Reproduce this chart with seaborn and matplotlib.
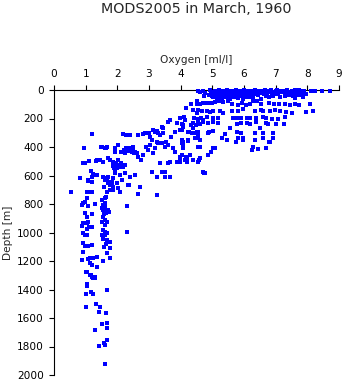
import matplotlib
matplotlib.use("Agg")
import matplotlib.pyplot as plt
import seaborn as sns
import pandas as pd

# (oxygen [ml/l], depth [m]) samples, grouped by depth band
surface_0_25 = [
    (4.55, 8), (4.62, 14), (4.70, 5), (4.78, 18), (4.93, 3), (5.00, 12), (5.05, 22), (5.10, 6),
    (5.15, 16), (5.20, 2), (5.25, 11), (5.30, 20), (5.35, 7), (5.40, 15), (5.45, 1), (5.50, 10),
    (5.55, 19), (5.60, 5), (5.65, 13), (5.70, 23), (5.75, 3), (5.80, 9), (5.85, 17), (5.90, 6),
    (5.95, 14), (6.00, 2), (6.05, 11), (6.10, 20), (6.15, 4), (6.20, 12), (6.25, 8), (6.30, 18),
    (6.35, 1), (6.40, 10), (6.45, 15), (6.50, 5), (6.55, 21), (6.60, 9), (6.65, 2), (6.70, 13),
    (6.75, 6), (6.80, 17), (6.85, 3), (6.90, 11), (6.95, 19), (7.00, 7), (7.05, 1), (7.10, 14),
    (7.15, 9), (7.20, 4), (7.25, 16), (7.30, 8), (7.35, 2), (7.40, 12), (7.45, 20), (7.50, 6),
    (7.55, 10), (7.60, 3), (7.65, 15), (7.70, 8), (7.75, 1), (7.80, 12), (7.85, 5), (7.90, 18),
    (7.95, 25), (8.13, 4), (8.24, 6), (8.45, 5), (8.72, 6),
]
surface_fill = [
    (4.97, 18), (5.07, 8), (5.12, 27), (5.22, 15), (5.28, 4), (5.37, 25), (5.42, 9), (5.52, 30),
    (5.58, 16), (5.67, 6), (5.72, 33), (5.78, 20), (5.88, 10), (5.93, 26), (6.02, 17), (6.08, 5),
    (6.12, 35), (6.18, 22), (6.27, 13), (6.33, 27), (6.42, 4), (6.48, 20), (6.58, 14), (6.63, 28),
    (6.72, 22), (6.78, 10), (6.88, 25), (6.98, 14), (7.08, 22), (7.18, 17), (7.28, 26), (7.38, 20),
    (7.48, 14), (7.58, 22), (7.68, 28), (7.78, 18), (7.88, 10), (5.00, 42), (5.18, 48),
    (5.40, 44), (5.60, 50), (5.82, 46), (6.00, 42), (6.20, 48),
]
surface_25_70 = [
    (4.75, 45), (4.88, 38), (4.95, 30), (5.02, 52), (5.08, 35), (5.14, 62), (5.20, 28), (5.26, 45),
    (5.32, 58), (5.38, 32), (5.44, 50), (5.50, 40), (5.56, 65), (5.62, 30), (5.68, 48), (5.74, 36),
    (5.80, 57), (5.86, 28), (5.92, 44), (5.98, 60), (6.04, 33), (6.10, 50), (6.16, 40), (6.22, 30),
    (6.30, 55), (6.45, 35), (6.55, 62), (6.70, 40), (6.80, 52), (6.92, 45), (7.05, 30), (7.15, 48),
    (7.30, 40), (7.42, 35), (7.55, 45), (7.62, 55), (7.75, 38), (7.85, 50),
]
upper_70_120 = [
    (4.34, 100), (4.50, 100), (4.60, 95), (4.75, 92), (4.85, 88), (5.00, 90), (5.10, 85), (5.35, 82),
    (5.62, 100), (5.80, 108), (5.95, 88), (6.05, 108), (6.40, 80), (6.55, 98), (6.80, 90), (6.95, 100),
    (7.12, 98), (7.30, 100), (7.45, 102), (7.60, 98), (7.75, 102), (8.08, 98), (5.20, 75), (5.50, 78),
    (6.20, 95), (6.30, 75), (4.50, 77), (4.71, 89),
]
upper_120_165 = [
    (4.18, 128), (4.39, 140), (4.55, 140), (4.66, 147), (4.82, 150), (4.92, 155), (5.03, 147),
    (5.24, 147), (5.61, 150), (5.82, 147), (5.97, 133), (6.34, 150), (6.55, 140), (6.60, 150),
    (6.81, 150), (6.97, 140), (7.13, 147), (7.34, 155), (7.50, 164), (7.97, 155), (8.18, 150),
    (5.35, 160), (4.50, 160),
]
upper_175_210 = [
    (3.97, 199), (4.10, 187), (4.13, 210), (4.42, 199), (4.55, 205), (4.63, 199), (4.82, 187),
    (5.03, 199), (5.18, 199), (5.66, 199), (5.78, 194), (5.92, 199), (6.08, 194), (6.18, 199),
    (6.37, 199), (6.60, 187), (6.71, 194), (6.87, 205), (7.08, 205), (7.29, 187),
]
upper_220_270 = [
    (4.03, 241), (4.08, 257), (4.39, 234), (4.48, 246), (4.61, 241), (4.69, 227), (4.87, 234),
    (5.03, 222), (5.18, 234), (5.55, 269), (5.78, 241), (5.92, 234), (6.08, 234), (6.20, 241),
    (6.37, 227), (6.50, 269), (6.69, 234), (6.76, 241), (7.02, 241), (7.26, 241),
]
upper_280_320 = [
    (3.97, 281), (4.27, 292), (4.37, 304), (4.50, 292), (4.55, 316), (4.90, 292), (5.03, 288),
    (5.40, 311), (5.78, 292), (5.92, 304), (6.34, 304), (6.60, 304), (6.92, 304),
]
upper_330_500 = [
    (4.03, 351), (4.03, 374), (4.24, 358), (4.45, 340), (4.55, 336), (5.29, 340), (5.45, 351),
    (5.82, 340), (5.97, 340), (6.34, 351), (6.60, 340), (6.79, 363), (6.92, 340),
    (4.08, 363), (4.06, 410), (4.03, 456), (4.24, 351), (4.29, 456), (4.19, 480), (4.19, 503),
    (3.97, 491), (4.55, 398), (4.61, 398), (4.40, 491), (4.59, 491), (4.87, 456), (4.97, 433),
    (5.03, 410), (5.08, 410), (5.76, 363), (5.97, 351), (6.24, 421), (6.29, 398), (6.45, 416),
    (6.71, 410), (6.81, 363), (4.74, 580),
]
middle_210_400 = [
    (3.13, 281), (3.19, 292), (3.24, 286), (3.29, 304), (3.34, 316), (3.40, 257), (3.45, 269),
    (3.45, 304), (3.61, 222), (3.66, 211), (3.71, 327), (3.82, 292), (3.87, 234), (4.03, 281),
    (4.08, 246), (4.24, 292), (4.34, 246), (4.39, 269), (4.45, 304), (4.55, 292), (4.55, 222),
    (4.60, 351), (4.71, 211), (4.87, 304),
    (2.19, 311), (2.27, 316), (2.40, 316), (2.66, 316), (2.82, 309), (2.87, 304), (3.01, 304),
    (3.03, 327), (3.08, 351), (3.24, 362), (3.29, 374), (3.40, 374), (3.50, 398), (3.55, 362),
    (3.61, 386),
]
middle_380_520 = [
    (1.50, 398), (1.61, 409), (1.66, 398), (1.92, 409), (1.92, 433), (2.03, 386), (2.13, 433),
    (2.24, 444), (2.35, 421), (2.40, 409), (2.45, 433), (2.50, 398), (2.55, 433), (2.61, 444),
    (2.66, 468), (2.76, 491), (2.82, 456), (2.92, 398), (2.97, 421), (3.03, 386), (3.13, 444),
    (3.19, 409), (3.34, 515), (3.61, 515), (3.66, 503), (3.76, 409), (3.82, 433), (3.87, 503),
    (3.97, 468), (3.97, 503), (4.08, 386), (4.13, 491), (4.18, 468), (4.29, 456), (4.39, 491),
    (4.55, 503), (4.60, 479), (4.71, 573), (4.87, 456),
    (2.38, 415), (2.42, 425), (2.48, 418), (2.32, 430), (2.52, 440), (2.20, 420), (2.28, 410),
]
middle_480_780 = [
    (1.45, 491), (1.56, 503), (1.71, 479), (1.77, 491), (1.87, 503), (1.92, 515), (1.98, 526),
    (2.03, 491), (2.08, 538), (2.13, 515), (2.19, 538), (2.24, 526), (2.24, 585), (2.08, 596),
    (1.92, 585), (1.87, 620), (1.71, 608), (1.61, 620), (1.66, 632), (1.71, 643), (1.77, 655),
    (1.82, 667), (1.98, 655), (2.03, 690), (2.08, 713), (1.87, 702), (1.56, 608), (2.55, 596),
    (2.40, 608), (3.08, 573), (3.24, 608), (3.40, 573), (3.50, 573), (3.50, 608), (3.66, 608),
    (4.76, 585), (2.35, 667), (2.71, 678), (2.66, 730), (3.24, 737), (1.66, 713), (1.77, 702),
    (1.61, 760), (1.95, 535), (1.90, 545), (2.00, 550), (1.96, 520), (1.85, 530), (1.94, 560),
    (1.56, 609), (1.61, 632), (1.72, 656), (1.58, 679),
]
left_300_640 = [
    (1.19, 309), (0.95, 409), (0.90, 510), (0.97, 510), (1.10, 498), (1.35, 490), (1.33, 500),
    (1.48, 402), (1.64, 409), (1.17, 570), (1.22, 590), (1.28, 596), (1.35, 596), (1.20, 610),
    (0.82, 615), (1.08, 632),
]
deep_630_1320 = [
    (1.08, 636), (1.19, 643), (1.61, 632), (1.71, 643), (1.77, 667), (1.87, 678), (1.82, 643),
    (2.14, 632), (2.38, 667), (2.71, 678), (0.53, 718), (1.03, 713), (1.12, 713), (1.19, 713),
    (1.64, 753), (1.50, 772), (1.61, 796), (1.56, 807), (1.03, 760), (0.87, 807), (0.93, 796),
    (0.98, 784), (1.08, 811), (1.29, 800), (1.50, 831), (1.56, 842), (1.66, 846), (1.71, 842),
    (1.75, 854), (2.29, 811), (0.98, 866), (1.03, 889), (1.19, 870), (1.56, 889), (1.61, 912),
    (1.50, 924), (1.66, 924), (0.93, 936), (1.03, 936), (1.08, 924), (1.12, 959), (1.19, 964),
    (0.89, 955), (1.05, 978), (1.56, 982), (1.61, 994), (1.66, 1006), (1.50, 1018), (1.61, 1018),
    (1.56, 1029), (0.93, 1006), (0.98, 1018), (1.03, 1018), (2.29, 999), (1.71, 1064),
    (1.66, 1053), (1.77, 1064), (1.77, 1111), (0.93, 1076), (0.98, 1095), (1.08, 1095),
    (1.19, 1088), (0.93, 1134), (1.68, 1146), (1.77, 1176), (1.35, 1170), (1.24, 1181),
    (1.14, 1181), (1.08, 1186), (0.87, 1193), (1.56, 1200), (1.14, 1216), (1.19, 1228),
    (1.35, 1244), (1.03, 1275), (1.14, 1298), (1.19, 1315), (1.29, 1315),
    (1.60, 820), (1.64, 860), (1.58, 870), (1.62, 950), (1.55, 1045), (1.63, 1080), (1.58, 1100),
]
deep_1270_1930 = [
    (1.00, 1280), (1.16, 1298), (1.24, 1316), (1.31, 1316), (1.04, 1362), (1.04, 1374),
    (1.68, 1404), (1.00, 1435), (1.16, 1421), (1.24, 1435), (1.32, 1503), (1.45, 1520),
    (1.01, 1525), (1.42, 1556), (1.64, 1568), (1.52, 1642), (1.68, 1637), (1.68, 1670),
    (1.31, 1687), (1.68, 1757), (1.59, 1775), (1.62, 1790), (1.43, 1796), (1.62, 1925),
]

groups = [surface_0_25, surface_fill, surface_25_70, upper_70_120, upper_120_165, upper_175_210,
          upper_220_270, upper_280_320, upper_330_500, middle_210_400, middle_380_520,
          middle_480_780, left_300_640, deep_630_1320, deep_1270_1930]
oxygen = [p[0] for g in groups for p in g]
depth = [p[1] for g in groups for p in g]
df = pd.DataFrame({"Oxygen": oxygen, "Depth": depth})

x_ticks = list(range(0, 10))
y_ticks = list(range(0, 2001, 200))
title = "MODS2005 in March, 1960"

sns.set_style("ticks")
plt.rcParams["font.family"] = ["DejaVu Sans"]

fig = plt.figure(figsize=(3.45, 3.84), dpi=100)
ax = fig.add_axes([54 / 345, 1 - 375 / 384, (339 - 54) / 345, (375 - 90) / 384])

sns.scatterplot(data=df, x="Oxygen", y="Depth", ax=ax, color="#0000FF", marker="s",
                s=6, linewidth=0, clip_on=False, zorder=3)

ax.set_xlim(0, 9)
ax.set_ylim(2000, 0)
ax.set_xticks(x_ticks)
ax.set_yticks(y_ticks)
ax.xaxis.tick_top()
ax.xaxis.set_label_position("top")
for side in ("right", "bottom"):
    ax.spines[side].set_visible(False)
for side in ("left", "top"):
    ax.spines[side].set_linewidth(0.8)
    ax.spines[side].set_color("black")
ax.tick_params(axis="x", direction="out", length=3.6, width=0.8, pad=4.5, labelsize=7.6,
               colors="black")
ax.tick_params(axis="y", direction="out", length=3.6, width=0.8, pad=3.8, labelsize=7.6,
               colors="black")
ax.set_xlabel("Oxygen [ml/l]", fontsize=7.6, labelpad=4)
ax.set_ylabel("Depth [m]", fontsize=7.6, labelpad=3)
ax.grid(False)

fig.text(196.5 / 345, 1 - 12.7 / 384, title, ha="center", va="baseline", fontsize=10.3)

fig.savefig("out.png", dpi=100)
